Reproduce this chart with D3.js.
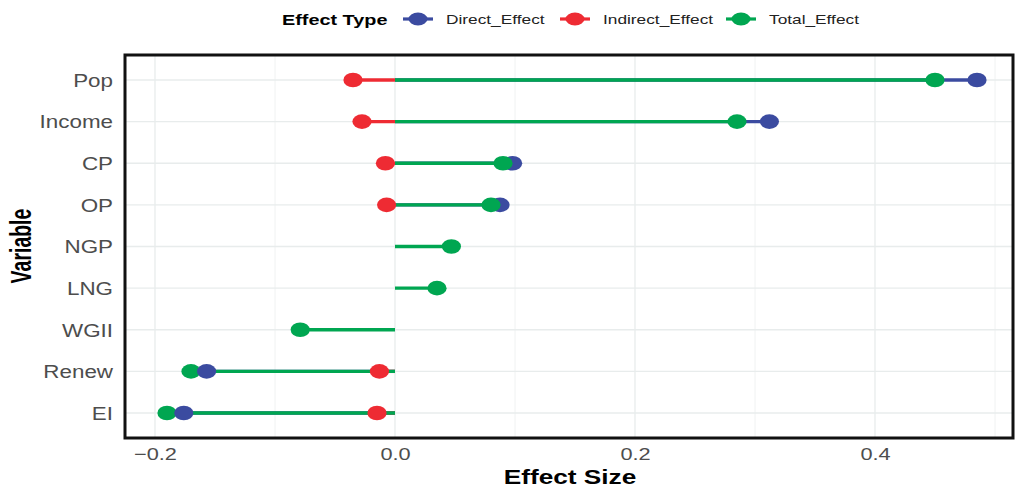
<!DOCTYPE html>
<html>
<head>
<meta charset="utf-8">
<script src="https://cdn.jsdelivr.net/npm/d3@7"></script>
<style>
  html, body { margin: 0; padding: 0; background: #ffffff; }
  svg { display: block; font-family: "Liberation Sans", Arial, sans-serif; }
</style>
</head>
<body>
<svg id="chart" width="1016" height="487"></svg>
<script>
// ---- data ----
const categories = ["Pop", "Income", "CP", "OP", "NGP", "LNG", "WGII", "Renew", "EI"];
const directEffect   = [0.485, 0.312, 0.098, 0.0875, null, null, null, -0.157, -0.176];
const indirectEffect = [-0.035, -0.0275, -0.008, -0.007, null, null, null, -0.013, -0.015];
const totalEffect    = [0.45, 0.285, 0.09, 0.08, 0.047, 0.035, -0.079, -0.17, -0.19];
const effectTypes = ["Direct_Effect", "Indirect_Effect", "Total_Effect"];
const xTickValues = [-0.2, 0.0, 0.2, 0.4];
const xMinorValues = [-0.1, 0.1, 0.3, 0.5];
const legendTitle = "Effect Type";
const xTitle = "Effect Size";
const yTitle = "Variable";

// ---- layout / style ----
const colors = { Direct_Effect: "#3B4BA0", Indirect_Effect: "#EE2B33", Total_Effect: "#00A651" };
const S = 1.28; // horizontal stretch of text
const panel = { left: 125, top: 55, right: 1013, bottom: 438 };

const series = { Direct_Effect: directEffect, Indirect_Effect: indirectEffect, Total_Effect: totalEffect };
const rows = [];
effectTypes.forEach(t => {
  series[t].forEach((v, i) => { if (v !== null) rows.push({ type: t, cat: categories[i], value: v }); });
});
// points drawn with the largest magnitudes first
const pointRows = rows.slice().sort((a, b) => Math.abs(b.value) - Math.abs(a.value));

const svg = d3.select("#chart");

const x = d3.scaleLinear().domain([-0.225, 0.515]).range([panel.left, panel.right]);
const y = d3.scalePoint().domain(categories).range([panel.top, panel.bottom]).padding(0.6);

// grid
const grid = svg.append("g");
grid.selectAll("line.minor").data(xMinorValues).join("line")
  .attr("x1", d => x(d)).attr("x2", d => x(d))
  .attr("y1", panel.top).attr("y2", panel.bottom)
  .attr("stroke", "#F0F2F2").attr("stroke-width", 1);
grid.selectAll("line.major").data(xTickValues).join("line")
  .attr("x1", d => x(d)).attr("x2", d => x(d))
  .attr("y1", panel.top).attr("y2", panel.bottom)
  .attr("stroke", "#E8ECEC").attr("stroke-width", 1.3);
grid.selectAll("line.hy").data(categories).join("line")
  .attr("x1", panel.left).attr("x2", panel.right)
  .attr("y1", d => y(d)).attr("y2", d => y(d))
  .attr("stroke", "#E8ECEC").attr("stroke-width", 1.3);

// segments
svg.append("g").selectAll("line").data(rows).join("line")
  .attr("x1", x(0)).attr("x2", d => x(d.value))
  .attr("y1", d => y(d.cat)).attr("y2", d => y(d.cat))
  .attr("stroke", d => colors[d.type]).attr("stroke-width", 3.3);

// points
svg.append("g").selectAll("ellipse").data(pointRows).join("ellipse")
  .attr("cx", d => x(d.value)).attr("cy", d => y(d.cat))
  .attr("rx", 9.6).attr("ry", 7.3)
  .attr("fill", d => colors[d.type]);

// panel border
svg.append("rect")
  .attr("x", panel.left).attr("y", panel.top)
  .attr("width", panel.right - panel.left).attr("height", panel.bottom - panel.top)
  .attr("fill", "none").attr("stroke", "#111").attr("stroke-width", 3);

// x axis
const xAxis = svg.append("g").attr("transform", `translate(0,${panel.bottom})`)
  .call(d3.axisBottom(x).tickValues(xTickValues).tickSize(0).tickPadding(0)
    .tickFormat(d => d3.format(".1f")(d).replace("-", "\u2212")));
xAxis.select(".domain").remove();
xAxis.selectAll("text")
  .attr("y", 22).attr("dy", 0)
  .attr("font-size", 17).attr("fill", "#4D4D4D")
  .attr("font-family", "Liberation Sans, Arial, sans-serif")
  .attr("transform", `scale(${S},1)`);

// y axis
const yAxis = svg.append("g").attr("transform", `translate(113,0)`)
  .call(d3.axisLeft(y).tickSize(0).tickPadding(0));
yAxis.select(".domain").remove();
yAxis.selectAll("text")
  .attr("x", 0).attr("dy", "0.36em")
  .attr("font-size", 17.5).attr("fill", "#4D4D4D")
  .attr("font-family", "Liberation Sans, Arial, sans-serif")
  .attr("transform", `scale(${S},1)`);

// axis titles
svg.append("g").attr("transform", `translate(570,484) scale(${S},1)`)
  .append("text").attr("text-anchor", "middle")
  .attr("font-size", 20.5).attr("font-weight", "bold").attr("fill", "#000")
  .text(xTitle);
svg.append("g").attr("transform", `translate(31,246) scale(1.5,1) rotate(-90)`)
  .append("text").attr("text-anchor", "middle")
  .attr("font-size", 19.5).attr("font-weight", "bold").attr("fill", "#000")
  .text(yTitle);

// legend
const legend = svg.append("g");
legend.append("g").attr("transform", `translate(282,25) scale(${S},1)`)
  .append("text").attr("font-size", 15.5).attr("font-weight", "bold").attr("fill", "#000")
  .text(legendTitle);
const keyX = { Direct_Effect: 418, Indirect_Effect: 575, Total_Effect: 741 };
effectTypes.forEach(t => {
  const cx = keyX[t];
  legend.append("line").attr("x1", cx - 15).attr("x2", cx + 15).attr("y1", 19).attr("y2", 19)
    .attr("stroke", colors[t]).attr("stroke-width", 3.2);
  legend.append("ellipse").attr("cx", cx).attr("cy", 19).attr("rx", 9.5).attr("ry", 6.5)
    .attr("fill", colors[t]);
  legend.append("g").attr("transform", `translate(${cx + 28},24) scale(${S},1)`)
    .append("text").attr("font-size", 13.5).attr("fill", "#222")
    .text(t);
});
</script>
</body>
</html>
